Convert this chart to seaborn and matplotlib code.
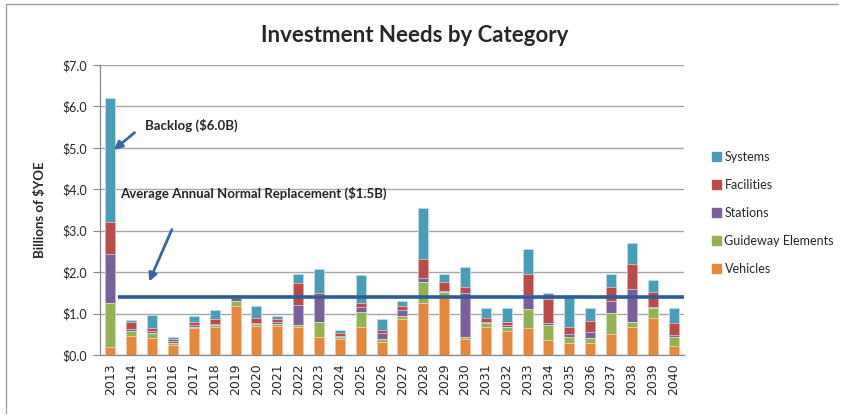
import numpy as np
import pandas as pd
import matplotlib
matplotlib.use("Agg")
import matplotlib.pyplot as plt
import seaborn as sns
from matplotlib.patches import Patch
from matplotlib.lines import Line2D

years = [str(y) for y in range(2013, 2041)]
vehicles = [0.20, 0.45, 0.42, 0.24, 0.64, 0.68, 1.18, 0.71, 0.70, 0.68, 0.44, 0.38, 0.67, 0.32,
            0.86, 1.25, 1.41, 0.38, 0.67, 0.58, 0.64, 0.36, 0.30, 0.30, 0.50, 0.67, 0.89, 0.22]
guideway = [1.06, 0.13, 0.10, 0.06, 0.04, 0.04, 0.13, 0.03, 0.05, 0.04, 0.36, 0.05, 0.38, 0.07,
            0.07, 0.52, 0.10, 0.06, 0.10, 0.10, 0.46, 0.36, 0.13, 0.12, 0.51, 0.12, 0.24, 0.22]
stations = [1.17, 0.05, 0.06, 0.05, 0.04, 0.04, 0.06, 0.04, 0.05, 0.49, 0.64, 0.03, 0.10, 0.13,
            0.16, 0.08, 0.03, 1.05, 0.02, 0.04, 0.35, 0.05, 0.08, 0.13, 0.30, 0.80, 0.02, 0.04]
facilities = [0.79, 0.16, 0.08, 0.03, 0.08, 0.10, 0.04, 0.11, 0.06, 0.52, 0.05, 0.06, 0.11, 0.08,
              0.09, 0.46, 0.23, 0.14, 0.10, 0.07, 0.51, 0.57, 0.17, 0.27, 0.34, 0.61, 0.38, 0.29]
systems = [2.98, 0.06, 0.31, 0.06, 0.14, 0.23, 0.05, 0.29, 0.08, 0.23, 0.58, 0.08, 0.66, 0.26,
           0.12, 1.25, 0.19, 0.49, 0.24, 0.34, 0.60, 0.15, 0.77, 0.31, 0.31, 0.50, 0.28, 0.36]
categories = ["Vehicles", "Guideway Elements", "Stations", "Facilities", "Systems"]
avg_replacement = 1.40
y_ticks = [0, 1, 2, 3, 4, 5, 6, 7]

colors = {"Vehicles": "#E5883F", "Guideway Elements": "#94B155", "Stations": "#7A5F9A",
          "Facilities": "#B84C4A", "Systems": "#4A9DB7"}
edges = {"Vehicles": "#F5C9A0", "Guideway Elements": "#CFE0B0", "Stations": "#C4B4D6",
         "Facilities": "#E4AAA8", "Systems": "#B6DDE8"}

df = pd.DataFrame({"Year": years, "Vehicles": vehicles, "Guideway Elements": guideway,
                   "Stations": stations, "Facilities": facilities, "Systems": systems})
cum = df[categories].cumsum(axis=1)
cum["Year"] = df["Year"]

sns.set_style("white")
plt.rcParams["font.family"] = ["Lato", "DejaVu Sans"]

fig = plt.figure(figsize=(8.44, 4.17), dpi=100)
ax = fig.add_axes([100/844, 1-355/417, 584/844, 290/417])

for cat in reversed(categories):
    sns.barplot(data=cum, x="Year", y=cat, color=colors[cat], width=0.48, ax=ax,
                edgecolor=edges[cat], linewidth=0.7, saturation=1, zorder=3)

ax.set_ylim(0, 7)
ax.set_xlim(-0.5, len(years) - 0.5)
ax.set_yticks(y_ticks)
ax.set_yticklabels([f"${v:.1f}" for v in y_ticks], fontsize=9)
ax.set_xticks(range(len(years)))
ax.set_xticklabels(years, rotation=90, fontsize=9, family="DejaVu Sans")
ax.tick_params(axis="x", length=0, pad=6)
ax.set_xticks(np.arange(-0.5, len(years), 1), minor=True)
ax.tick_params(axis="x", which="minor", length=5, color="#888888", width=0.8)
ax.tick_params(axis="y", length=5, color="#888888", width=0.8, left=True, pad=4)
ax.yaxis.grid(True, color="#A6A6A6", linewidth=1.0, zorder=0)
ax.set_axisbelow(True)
for s in ["top", "right"]:
    ax.spines[s].set_visible(False)
for s in ["left", "bottom"]:
    ax.spines[s].set_color("#888888")
    ax.spines[s].set_linewidth(0.9)
ax.set_xlabel("")
ax.set_ylabel("Billions of $YOE", fontsize=9.5, fontweight="bold", labelpad=12)

ax.plot([0.36, len(years) - 0.45], [avg_replacement, avg_replacement], color="#2E5C94",
        linewidth=2.6, zorder=5, solid_capstyle="butt")

arrow_kw = dict(arrowstyle="-|>", color="#3A67A3", lw=2.0, mutation_scale=12)
ax.annotate("", xy=(0.06, 4.91), xytext=(1.26, 5.41), arrowprops=arrow_kw, zorder=6)
ax.annotate("", xy=(1.80, 1.71), xytext=(3.0, 3.09), arrowprops=arrow_kw, zorder=6)
ax.text(1.66, 5.53, "Backlog ($6.0B)", fontsize=9.5, fontweight="bold", va="center", ha="left")
ax.text(0.46, 3.90, "Average Annual Normal Replacement ($1.5B)", fontsize=9.5,
        fontweight="bold", va="center", ha="left")

fig.text(415/844, 1-35/417, "Investment Needs by Category", fontsize=16, fontweight="bold",
         ha="center", va="center")

handles = [Patch(facecolor=colors[c], edgecolor=colors[c]) for c in reversed(categories)]
fig.legend(handles, list(reversed(categories)), loc="upper left",
           bbox_to_anchor=(707/844, 1-146/417), frameon=False, fontsize=9,
           handlelength=0.7, handleheight=0.7, handletextpad=0.3, labelspacing=1.28,
           borderaxespad=0)

fig.add_artist(Line2D([6/844, 6/844], [1-413/417, 1-4/417], color="#A0A0A0", lw=1.0))
fig.add_artist(Line2D([6/844, 838/844], [1-4/417, 1-4/417], color="#A0A0A0", lw=1.0))

fig.savefig("out.png", dpi=100)
